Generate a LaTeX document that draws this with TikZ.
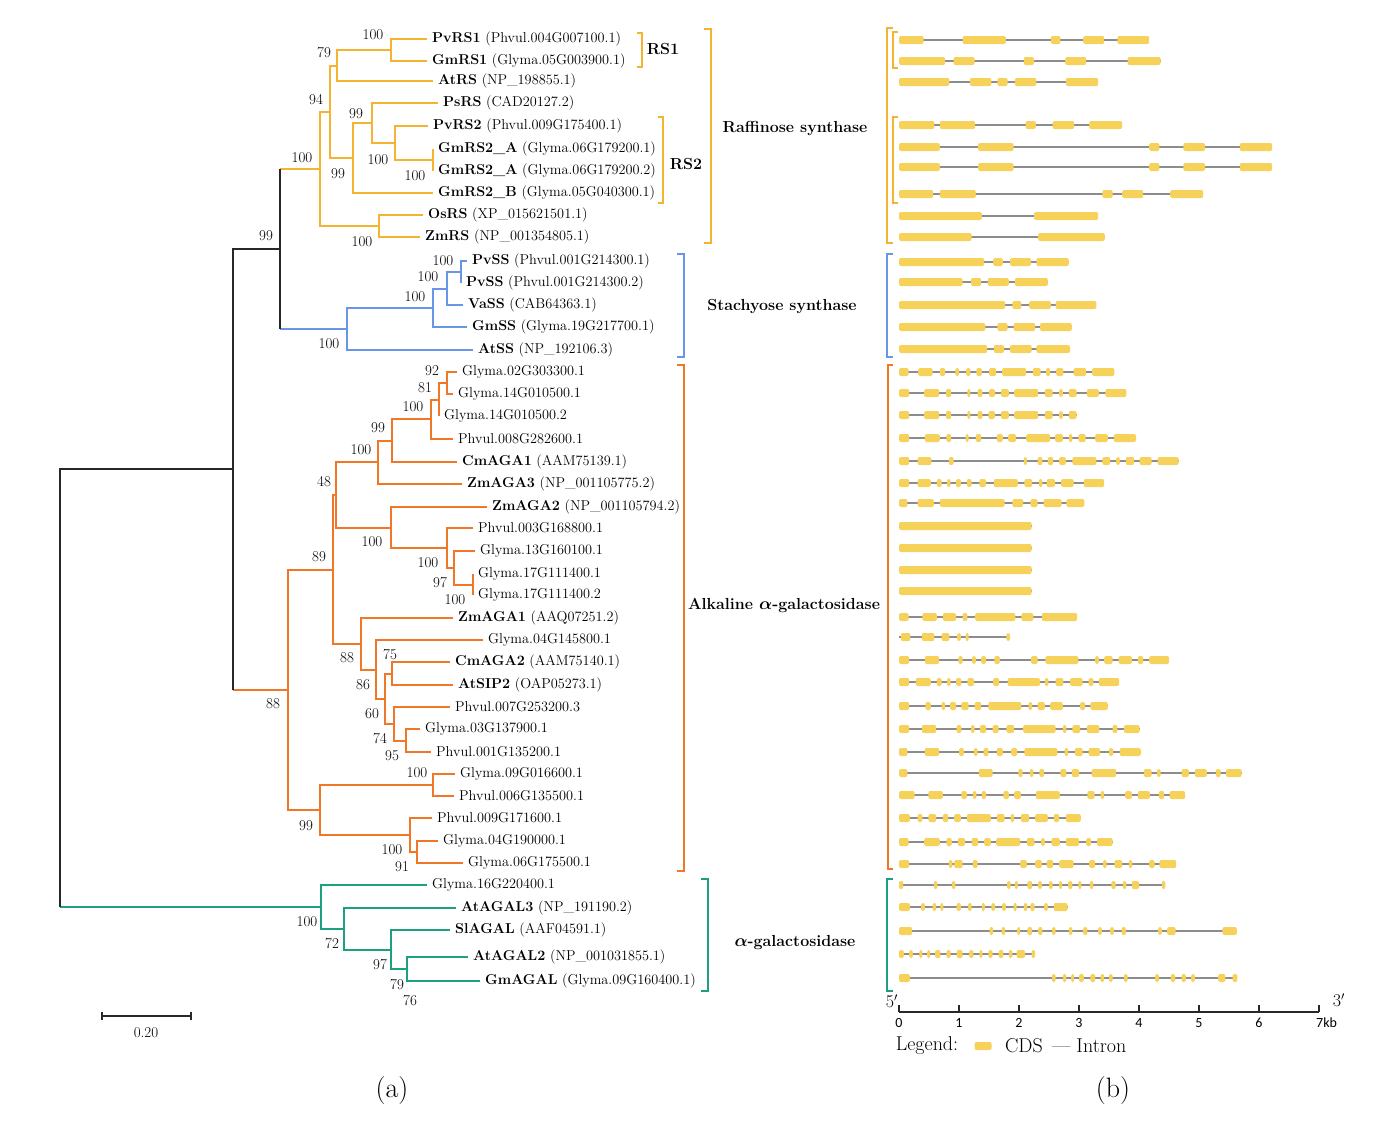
\documentclass[tikz,border=0pt]{standalone}
\usepackage{amsmath}
\usepackage{fontspec}
\newfontfamily\axisfont{Carlito}
\usetikzlibrary{positioning}

\definecolor{rsclr}{RGB}{244,180,50}
\definecolor{ssclr}{RGB}{104,150,230}
\definecolor{agaclr}{RGB}{240,118,40}
\definecolor{galclr}{RGB}{30,160,128}
\definecolor{rootclr}{RGB}{40,40,40}
\definecolor{cdsclr}{RGB}{247,210,90}
\definecolor{intronclr}{RGB}{140,140,140}

\newcommand\leaffont{\fontsize{14.3}{16}\selectfont}
\newcommand\bootfont{\fontsize{15}{17}\selectfont}
\newcommand\cladefont{\fontsize{16}{18}\selectfont}
\newcommand\legfont{\fontsize{20}{23}\selectfont}
\newcommand\panelfont{\fontsize{28}{32}\selectfont}
\newcommand\seqlabel[2]{\textbf{#1} (#2)}

\begin{document}
\begin{tikzpicture}[x=1pt,y=-1pt,
  leaf/.style={anchor=west, inner xsep=5pt, inner ysep=1pt, font=\leaffont},
  boot/.style={font=\bootfont, inner sep=0pt},
  clade/.style={font=\cladefont\bfseries, inner sep=1pt},
  rsline/.style={draw=rsclr, line width=1.6pt},
  ssline/.style={draw=ssclr, line width=1.6pt},
  agaline/.style={draw=agaclr, line width=1.6pt},
  galline/.style={draw=galclr, line width=1.6pt},
  rootline/.style={draw=rootclr, line width=1.6pt},
  cds/.style={fill=cdsclr, rounded corners=2pt},
  intron/.style={draw=intronclr, line width=1.2pt},
  tick/.style={font=\axisfont\fontsize{14}{16}\selectfont, inner sep=0pt},
  legtext/.style={font=\legfont, inner sep=0pt},
  panel/.style={font=\panelfont, inner sep=0pt}]
\useasboundingbox (0,0) rectangle (1384,1120);

% raffinose synthase
\node[leaf] (pvrs1) at (427,39) {\seqlabel{PvRS1}{Phvul.004G007100.1}};
\node[leaf] (gmrs1) at (427,61) {\seqlabel{GmRS1}{Glyma.05G003900.1}};
\node[leaf] (atrs) at (433,81) {\seqlabel{AtRS}{NP\_198855.1}};
\node[leaf] (psrs) at (438,103) {\seqlabel{PsRS}{CAD20127.2}};
\node[leaf] (pvrs2) at (428,126) {\seqlabel{PvRS2}{Phvul.009G175400.1}};
\node[leaf] (gmrs2a) at (433,149) {\seqlabel{GmRS2\_A}{Glyma.06G179200.1}};
\node[leaf] (gmrs2aa) at (433,171) {\seqlabel{GmRS2\_A}{Glyma.06G179200.2}};
\node[leaf] (gmrs2b) at (433,193) {\seqlabel{GmRS2\_B}{Glyma.05G040300.1}};
\node[leaf] (osrs) at (423,215) {\seqlabel{OsRS}{XP\_015621501.1}};
\node[leaf] (zmrs) at (420,237) {\seqlabel{ZmRS}{NP\_001354805.1}};
\coordinate (rs1) at (391,50);
\coordinate (rs79) at (337,66);
\coordinate (rs2a) at (433,160);
\coordinate (rs2) at (395,143);
\coordinate (rs99a) at (372,123);
\coordinate (rs99b) at (353,158);
\coordinate (rs94) at (330,112);
\coordinate (rsmono) at (379,226);
\coordinate (rsall) at (320,169);
\draw[rsline] (pvrs1.west) -| (rs1) |- (gmrs1.west);
\draw[rsline] (rs1) -| (rs79) |- (atrs.west);
\draw[rsline] (gmrs2a.west) -| (rs2a) |- (gmrs2aa.west);
\draw[rsline] (pvrs2.west) -| (rs2) |- (rs2a);
\draw[rsline] (psrs.west) -| (rs99a) |- (rs2);
\draw[rsline] (rs99a) -| (rs99b) |- (gmrs2b.west);
\draw[rsline] (rs79) -| (rs94) |- (rs99b);
\draw[rsline] (osrs.west) -| (rsmono) |- (zmrs.west);
\draw[rsline] (rs94) -| (rsall) |- (rsmono);

% stachyose synthase
\node[leaf] (pvss1) at (467,261) {\seqlabel{PvSS}{Phvul.001G214300.1}};
\node[leaf] (pvss2) at (461,283) {\seqlabel{PvSS}{Phvul.001G214300.2}};
\node[leaf] (vass) at (463,305) {\seqlabel{VaSS}{CAB64363.1}};
\node[leaf] (gmss) at (467,327) {\seqlabel{GmSS}{Glyma.19G217700.1}};
\node[leaf] (atss) at (473,350) {\seqlabel{AtSS}{NP\_192106.3}};
\coordinate (ss1) at (461,272);
\coordinate (ss2) at (447,289);
\coordinate (ss3) at (433,308);
\coordinate (ssall) at (347,329);
\draw[ssline] (pvss1.west) -| (ss1) |- (pvss2.west);
\draw[ssline] (ss1) -| (ss2) |- (vass.west);
\draw[ssline] (ss2) -| (ss3) |- (gmss.west);
\draw[ssline] (ss3) -| (ssall) |- (atss.west);

\coordinate (rss) at (280,249);
\draw[rsline] (rsall) -- (rsall -| rss);
\draw[ssline] (ssall) -- (ssall -| rss);
\draw[rootline] (rsall -| rss) -- (ssall -| rss);

% alkaline alpha-galactosidase
\node[leaf] (gly02) at (457,372) {Glyma.02G303300.1};
\node[leaf] (gly14a) at (453,394) {Glyma.14G010500.1};
\node[leaf] (gly14b) at (439,416) {Glyma.14G010500.2};
\node[leaf] (phv008) at (453,439) {Phvul.008G282600.1};
\node[leaf] (cmaga1) at (457,462) {\seqlabel{CmAGA1}{AAM75139.1}};
\node[leaf] (zmaga3) at (462,484) {\seqlabel{ZmAGA3}{NP\_001105775.2}};
\node[leaf] (zmaga2) at (487,507) {\seqlabel{ZmAGA2}{NP\_001105794.2}};
\node[leaf] (phv003) at (473,528) {Phvul.003G168800.1};
\node[leaf] (gly13) at (475,551) {Glyma.13G160100.1};
\node[leaf] (gly17a) at (473,574) {Glyma.17G111400.1};
\node[leaf] (gly17b) at (473,595) {Glyma.17G111400.2};
\node[leaf] (zmaga1) at (453,618) {\seqlabel{ZmAGA1}{AAQ07251.2}};
\node[leaf] (gly04a) at (483,640) {Glyma.04G145800.1};
\node[leaf] (cmaga2) at (450,662) {\seqlabel{CmAGA2}{AAM75140.1}};
\node[leaf] (atsip2) at (453,685) {\seqlabel{AtSIP2}{OAP05273.1}};
\node[leaf] (phv007) at (450,707) {Phvul.007G253200.3};
\node[leaf] (gly03) at (420,729) {Glyma.03G137900.1};
\node[leaf] (phv001) at (431,752) {Phvul.001G135200.1};
\node[leaf] (gly09) at (455,774) {Glyma.09G016600.1};
\node[leaf] (phv006) at (454,796) {Phvul.006G135500.1};
\node[leaf] (phv009) at (432,818) {Phvul.009G171600.1};
\node[leaf] (gly04b) at (438,841) {Glyma.04G190000.1};
\node[leaf] (gly06) at (463,863) {Glyma.06G175500.1};
\coordinate (ak92) at (447,383);
\coordinate (ak81) at (439,400);
\coordinate (ak100a) at (431,419);
\coordinate (ak99) at (392,441);
\coordinate (ak100b) at (378,462);
\coordinate (ak17) at (473,585);
\coordinate (ak97) at (454,568);
\coordinate (ak100c) at (447,548);
\coordinate (ak100d) at (391,528);
\coordinate (ak48) at (336,495);
\coordinate (ak75) at (392,674);
\coordinate (ak95) at (406,741);
\coordinate (ak74) at (394,724);
\coordinate (ak60) at (385,699);
\coordinate (ak86) at (376,670);
\coordinate (ak88) at (361,644);
\coordinate (ak89) at (333,570);
\coordinate (ak100e) at (433,785);
\coordinate (ak91) at (417,852);
\coordinate (ak100f) at (410,835);
\coordinate (ak99b) at (320,810);
\coordinate (akall) at (288,690);
\draw[agaline] (gly02.west) -| (ak92) |- (gly14a.west);
\draw[agaline] (ak92) -| (ak81) |- (gly14b.west);
\draw[agaline] (ak81) -| (ak100a) |- (phv008.west);
\draw[agaline] (ak100a) -| (ak99) |- (cmaga1.west);
\draw[agaline] (ak99) -| (ak100b) |- (zmaga3.west);
\draw[agaline] (gly17a.west) -| (ak17) |- (gly17b.west);
\draw[agaline] (gly13.west) -| (ak97) |- (ak17);
\draw[agaline] (phv003.west) -| (ak100c) |- (ak97);
\draw[agaline] (zmaga2.west) -| (ak100d) |- (ak100c);
\draw[agaline] (ak100b) -| (ak48) |- (ak100d);
\draw[agaline] (cmaga2.west) -| (ak75) |- (atsip2.west);
\draw[agaline] (gly03.west) -| (ak95) |- (phv001.west);
\draw[agaline] (phv007.west) -| (ak74) |- (ak95);
\draw[agaline] (ak75) -| (ak60) |- (ak74);
\draw[agaline] (gly04a.west) -| (ak86) |- (ak60);
\draw[agaline] (zmaga1.west) -| (ak88) |- (ak86);
\draw[agaline] (ak48) -| (ak89) |- (ak88);
\draw[agaline] (gly09.west) -| (ak100e) |- (phv006.west);
\draw[agaline] (gly04b.west) -| (ak91) |- (gly06.west);
\draw[agaline] (phv009.west) -| (ak100f) |- (ak91);
\draw[agaline] (ak100e) -| (ak99b) |- (ak100f);
\draw[agaline] (ak89) -| (akall) |- (ak99b);

\coordinate (root1) at (233,469);
\draw[agaline] (akall) -- (akall -| root1);
\draw[rootline] (rss) -- (rss -| root1) -- (akall -| root1);

% alpha-galactosidase
\node[leaf] (gly16) at (427,885) {Glyma.16G220400.1};
\node[leaf] (atagal3) at (456,908) {\seqlabel{AtAGAL3}{NP\_191190.2}};
\node[leaf] (slagal) at (450,930) {\seqlabel{SlAGAL}{AAF04591.1}};
\node[leaf] (atagal2) at (468,957) {\seqlabel{AtAGAL2}{NP\_001031855.1}};
\node[leaf] (gmagal) at (480,981) {\seqlabel{GmAGAL}{Glyma.09G160400.1}};
\coordinate (g79) at (407,969);
\coordinate (g97) at (391,950);
\coordinate (g72) at (344,929);
\coordinate (g100) at (321,907);
\draw[galline] (atagal2.west) -| (g79) |- (gmagal.west);
\draw[galline] (slagal.west) -| (g97) |- (g79);
\draw[galline] (atagal3.west) -| (g72) |- (g97);
\draw[galline] (gly16.west) -| (g100) |- (g72);

\coordinate (root) at (60,688);
\draw[galline] (g100) -- (g100 -| root);
\draw[rootline] (root1) -- (root1 -| root) -- (g100 -| root);

% bootstrap values
\foreach \bx/\by/\bv [count=\i] in {373/35/100, 324/53/79, 316/100/94, 356/114/99,
  378/160/100, 415/176/100, 338/174/99, 302/158/100, 362/242/100, 266/236/99,
  443/261/100, 428/277/100, 415/297/100, 329/344/100, 432/371/92, 425/388/81,
  413/407/100, 378/428/99, 361/450/100, 324/482/48, 372/542/100, 428/563/100,
  440/583/97, 455/600/100, 319/557/89, 347/658/88, 390/655/75, 363/685/86,
  372/714/60, 380/739/74, 392/756/95, 273/704/88, 417/773/100, 306/826/99,
  392/850/100, 402/867/91, 307/922/100, 332/944/72, 380/965/97, 397/985/79,
  410/1001/76}
  \node[boot] (bs\i) at (\bx,\by) {\bv};

% clade brackets
\draw[rsline] (637,33) -- (642,33) -- (642,67) -- (637,67);
\draw[rsline] (658,117) -- (663,117) -- (663,203) -- (658,203);
\draw[rsline] (704,29) -- (711,29) -- (711,243) -- (704,243);
\draw[ssline] (677,254) -- (684,254) -- (684,357) -- (677,357);
\draw[agaline] (677,365) -- (684,365) -- (684,871) -- (677,871);
\draw[galline] (701,879) -- (708,879) -- (708,991) -- (701,991);
\node[clade] (rs1lab) at (663,49) {RS1};
\node[clade] (rs2lab) at (686,164) {RS2};
\node[clade] (raflab) at (795,128) {Raffinose synthase};
\node[clade] (stalab) at (782,307) {Stachyose synthase};
\node[clade] (alklab) at (784,605) {Alkaline {\boldmath$\alpha$}-galactosidase};
\node[clade] (gallab) at (795,943) {{\boldmath$\alpha$}-galactosidase};

% scale bar
\draw[rootline, line width=1.3pt] (102,1012) -- (102,1020) (102,1016) -- (191,1016) (191,1012) -- (191,1020);
\node[boot] (scalelab) at (146,1033) {0.20};

% gene structures
\draw[rsline] (893,28) -- (887,28) -- (887,243) -- (893,243);
\draw[rsline] (898,32) -- (893,32) -- (893,68) -- (898,68);
\draw[rsline] (898,117) -- (893,117) -- (893,203) -- (898,203);
\draw[ssline] (893,254) -- (887,254) -- (887,357) -- (893,357);
\draw[agaline] (893,365) -- (888,365) -- (888,869) -- (893,869);
\draw[galline] (893,879) -- (887,879) -- (887,991) -- (893,991);
\begin{scope}[shift={(899,0)}, x=60pt]
\foreach \gy/\glen/\gex in {%
  40/4.17/{0/0.41,1.06/1.78,2.53/2.69,3.07/3.42,3.64/4.17},%
  61/4.36/{0/0.77,0.91/1.26,2.08/2.25,2.77/3.12,3.81/4.36},%
  82/3.32/{0/0.84,1.18/1.54,1.64/1.81,1.93/2.29,2.78/3.32},%
  125/3.72/{0/0.59,0.68/1.27,2.11/2.28,2.56/2.92,3.17/3.72},%
  147/6.22/{0/0.68,1.32/1.91,4.17/4.34,4.74/5.10,5.68/6.22},%
  167/6.22/{0/0.68,1.32/1.91,4.17/4.34,4.74/5.10,5.68/6.22},%
  194/5.07/{0/0.57,0.68/1.28,3.39/3.56,3.72/4.07,4.52/5.07},%
  216/3.32/{0/1.38,2.25/3.32},%
  237/3.43/{0/1.21,2.32/3.43},%
  262/2.83/{0/1.42,1.57/1.73,1.85/2.20,2.29/2.83},%
  282/2.48/{0/1.06,1.20/1.37,1.48/1.83,1.93/2.48},%
  305/3.29/{0/1.77,1.89/2.04,2.17/2.53,2.61/3.29},%
  327/2.88/{0/1.44,1.64/1.81,1.91/2.27,2.35/2.88},%
  349/2.85/{0/1.47,1.58/1.75,1.85/2.21,2.29/2.85},%
  372/3.59/{0/0.16,0.32/0.56,0.68/0.77,0.94/1.00,1.12/1.19,1.29/1.38,1.50/1.62,1.72/2.12,2.23/2.36,2.45/2.52,2.62/2.74,2.91/3.12,3.22/3.59},%
  393/3.79/{0/0.17,0.42/0.67,0.78/0.87,1.14/1.19,1.31/1.39,1.50/1.60,1.70/1.83,1.92/2.32,2.43/2.56,2.67/2.73,2.83/2.96,3.13/3.33,3.44/3.79},%
  415/2.96/{0/0.17,0.42/0.67,0.78/0.87,1.14/1.19,1.31/1.39,1.49/1.60,1.70/1.83,1.92/2.32,2.43/2.56,2.67/2.73,2.83/2.96},%
  438/3.95/{0/0.17,0.43/0.68,0.79/0.87,1.11/1.16,1.28/1.37,1.63/1.73,1.82/1.95,2.12/2.52,2.60/2.73,2.83/2.89,2.99/3.11,3.27/3.48,3.58/3.95},%
  461/4.66/{0/0.17,0.31/0.54,0.83/0.91,2.08/2.13,2.31/2.39,2.48/2.57,2.67/2.78,2.89/3.29,3.39/3.52,3.62/3.68,3.78/3.92,4.01/4.21,4.31/4.66},%
  483/3.42/{0/0.17,0.31/0.53,0.63/0.71,0.80/0.86,0.95/1.03,1.13/1.21,1.34/1.45,1.58/1.98,2.09/2.22,2.33/2.39,2.46/2.60,2.70/2.91,3.08/3.42},%
  503/3.09/{0/0.14,0.31/0.58,0.68/1.76,1.89/2.07,2.19/2.31,2.41/2.71,2.79/3.09},%
  526/2.21/{0/2.21},%
  548/2.21/{0/2.21},%
  570/2.21/{0/2.21},%
  591/2.21/{0/2.21},%
  617/2.97/{0/0.16,0.39/0.63,0.73/0.95,1.06/1.14,1.27/1.94,2.04/2.24,2.38/2.97},%
  637/1.85/{0.03/0.19,0.38/0.59,0.71/0.84,0.97/1.03,1.11/1.16,1.79/1.85},%
  660/4.50/{0/0.17,0.43/0.67,0.99/1.06,1.22/1.28,1.37/1.45,1.59/1.68,2.20/2.31,2.44/2.99,3.27/3.33,3.42/3.56,3.66/3.88,3.98/4.07,4.17/4.50},%
  682/3.67/{0/0.17,0.28/0.53,0.63/0.71,0.80/0.86,0.95/1.04,1.14/1.25,1.57/1.67,1.81/2.35,2.43/2.49,2.61/2.74,2.85/3.06,3.16/3.24,3.33/3.67},%
  706/3.48/{0/0.17,0.44/0.53,0.71/0.77,0.85/0.95,1.04/1.16,1.26/1.37,1.49/2.04,2.16/2.22,2.31/2.43,2.52/2.73,3.02/3.10,3.19/3.48},%
  729/4.01/{0/0.17,0.38/0.62,0.96/1.04,1.20/1.26,1.35/1.45,1.56/1.66,1.79/1.92,2.07/2.61,2.73/2.79,2.89/3.02,3.13/3.34,3.56/3.64,3.75/4.01},%
  752/4.03/{0/0.14,0.43/0.67,1.00/1.08,1.25/1.31,1.41/1.49,1.63/1.73,1.87/1.97,2.09/2.64,2.76/2.82,2.93/3.06,3.16/3.35,3.50/3.57,3.68/4.03},%
  773/5.71/{0/0.14,1.33/1.56,1.99/2.06,2.18/2.24,2.34/2.42,2.69/2.79,2.88/3.00,3.21/3.62,4.08/4.21,4.30/4.36,4.71/4.83,4.93/5.13,5.28/5.36,5.45/5.71},%
  795/4.77/{0/0.26,0.49/0.73,1.04/1.13,1.23/1.29,1.38/1.45,1.74/1.83,1.92/2.03,2.28/2.68,3.14/3.26,3.36/3.42,3.77/3.88,3.98/4.18,4.33/4.42,4.51/4.77},%
  818/3.03/{0/0.18,0.31/0.39,0.49/0.62,0.73/0.82,0.92/1.03,1.13/1.53,1.63/1.76,1.86/1.92,2.03/2.17,2.27/2.48,2.58/2.67,2.78/3.03},%
  842/3.56/{0/0.16,0.42/0.68,0.79/0.88,0.98/1.10,1.21/1.32,1.42/1.53,1.62/2.02,2.13/2.26,2.37/2.43,2.54/2.68,2.78/3.00,3.12/3.20,3.30/3.56},%
  864/4.62/{0/0.17,0.83/0.89,0.92/1.06,1.23/1.31,2.02/2.13,2.27/2.38,2.46/2.57,2.67/2.91,3.17/3.27,3.40/3.46,3.59/3.72,3.83/3.89,4.17/4.26,4.34/4.62},%
  885/4.44/{0/0.07,0.58/0.64,0.88/0.94,1.80/1.86,1.93/1.98,2.14/2.22,2.32/2.38,2.50/2.56,2.67/2.72,2.82/2.89,2.99/3.04,3.18/3.24,3.54/3.61,3.73/3.79,3.88/4.00,4.38/4.44},%
  907/2.81/{0/0.18,0.37/0.43,0.56/0.62,0.69/0.74,0.96/1.03,1.15/1.21,1.38/1.43,1.54/1.60,1.72/1.78,1.91/1.96,2.08/2.14,2.19/2.26,2.42/2.48,2.58/2.81},%
  931/5.63/{0/0.22,1.51/1.57,1.71/1.77,1.97/2.02,2.14/2.22,2.32/2.39,2.55/2.61,2.83/2.89,3.07/3.14,3.32/3.38,3.52/3.58,3.71/3.78,4.32/4.38,4.47/4.61,5.39/5.63},%
  954/2.27/{0/0.08,0.17/0.23,0.34/0.39,0.47/0.52,0.60/0.69,0.79/0.86,0.96/1.06,1.17/1.24,1.34/1.39,1.49/1.56,1.66/1.74,1.83/1.89,1.96/2.10,2.21/2.27},%
  978/5.64/{0/0.18,2.55/2.61,2.73/2.79,2.87/2.92,3.00/3.08,3.19/3.27,3.36/3.42,3.50/3.56,3.75/3.81,4.27/4.33,4.53/4.60,4.71/4.78,4.87/4.93,5.32/5.44,5.56/5.64}%
}{
  \draw[intron] (0,\gy) -- (\glen,\gy);
  \foreach \ga/\gb in \gex
    \fill[cds] (\ga,\gy-4) rectangle (\gb,\gy+4);
}
% kb axis
\draw[rootline, line width=1.3pt] (0,1012) -- (7,1012);
\foreach \k in {0,...,6} {
  \draw[rootline, line width=1.3pt] (\k,1012) -- (\k,1005);
  \node[tick] (kb\k) at (\k,1023) {\k};
}
\draw[rootline, line width=1.3pt] (7,1012) -- (7,1005);
\node[tick, anchor=west] (kb7) at (6.95,1023) {7kb};
\node[font=\fontsize{18}{20}\selectfont, inner sep=0pt] (five) at (-0.12,1001) {5$'$};
\node[font=\fontsize{18}{20}\selectfont, inner sep=0pt] (three) at (7.33,1000) {3$'$};
\end{scope}

% legend
\node[legtext] (legend) at (927,1046) {Legend:};
\node[cds, minimum width=17pt, minimum height=8pt, inner sep=0pt, right=16pt of legend] (cdskey) {};
\node[legtext, right=13pt of cdskey] (cdstext) {CDS};
\node[legtext, right=9pt of cdstext] (introntext) {--- Intron};

% panel labels
\node[panel] (panela) at (392,1090) {(a)};
\node[panel] (panelb) at (1113,1090) {(b)};
\end{tikzpicture}
\end{document}
